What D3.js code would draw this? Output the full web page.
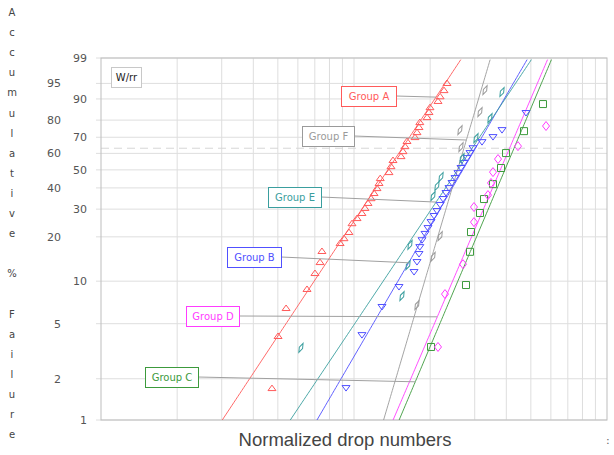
<!DOCTYPE html>
<html>
<head>
<meta charset="utf-8">
<script src="https://cdn.jsdelivr.net/npm/d3@7"></script>
<style>
  body { margin: 0; background: #fff; }
  text { font-family: "DejaVu Sans", Verdana, sans-serif; }
</style>
</head>
<body>
<svg id="chart" width="614" height="455"></svg>
<script>
// ---- Data -------------------------------------------------------------
const groups = ["Group A", "Group B", "Group C", "Group D", "Group E", "Group F"];
const colors = ["#ff5a5a", "#5050ff", "#3c9a3c", "#ff3cff", "#3a9e9e", "#9a9a9a"];

// Weibull fit per group: shape (beta) and scale (eta, normalized drops)
const betaFit = [2.81, 3.19, 4.40, 4.34, 2.78, 6.29];
const etaFit  = [15.5, 30.2, 42.9, 41.2, 29.3, 27.2];

// Observed failures: normalized drop number and cumulative % failure
const dropsA = [4.74, 5.01, 5.39, 6.52, 7.01, 7.34, 7.47, 8.81, 9.13, 9.55, 9.82, 10.28, 10.75, 11.05,
                11.36, 11.68, 12.0, 12.33, 12.56, 12.7, 13.75, 14.0, 14.26, 15.34, 15.62, 15.91, 16.2,
                17.42, 17.74, 18.07, 18.2, 19.44, 19.79, 19.97, 21.48, 21.9, 22.69, 23.3];
const failA  = [1.71, 4.08, 6.47, 8.82, 11.39, 13.55, 16.1, 18.2, 19.6, 21.5, 24.5, 26.4, 28.4, 30.5,
                32.7, 34.9, 37.4, 39.9, 42.6, 45.3, 48.7, 52.2, 55.9, 58.3, 61.4, 64.5, 67.7,
                70.1, 73.1, 76.1, 78.9, 81.6, 84.2, 86.5, 89.2, 91.0, 93.1, 95.1];

const dropsB = [9.30, 10.75, 12.90, 15.06, 17.27, 17.74, 18.07, 18.2, 18.57, 19.08, 19.61, 20.16, 20.72,
                21.28, 21.9, 22.48, 23.1, 23.74, 24.40, 25.07, 25.76, 26.48, 27.21, 27.96, 28.74, 29.53,
                32.06, 35.43, 38.46, 47.85];
const failB  = [1.71, 4.14, 6.58, 9.10, 11.57, 13.55, 15.36, 17.1, 19.0, 20.9, 22.8, 24.9, 27.2,
                29.2, 31.8, 34.5, 37.4, 39.9, 42.6, 45.3, 48.1, 51.1, 54.1, 57.1, 60.2, 63.2,
                67.0, 70.1, 74.3, 83.7];

const dropsC = [20.16, 27.71, 28.74, 29.0, 31.48, 32.65, 35.43, 38.11, 39.89, 46.98, 55.85];
const failC  = [3.40, 9.40, 15.9, 21.5, 28.4, 34.5, 42.0, 51.1, 60.2, 73.7, 87.9];

const dropsD = [21.48, 22.89, 26.97, 29.8, 29.8, 33.85, 34.79, 35.43, 37.09, 44.48, 57.41];
const failD  = [3.40, 8.12, 13.1, 24.9, 30.9, 36.4, 42.6, 48.7, 56.5, 64.5, 76.7];

const dropsE = [6.17, 15.48, 16.35, 16.65, 20.53, 21.28, 22.08, 26.73, 30.35, 34.47, 38.46];
const failE  = [3.35, 7.86, 12.9, 17.7, 35.9, 41.0, 45.9, 57.1, 69.5, 81.1, 92.5];

const dropsF = [17.74, 20.53, 21.9, 26.48, 26.24, 31.48, 32.95];
const failF  = [6.79, 14.7, 20.2, 63.9, 74.3, 84.2, 93.1];

// Probability axis labels, split into two staggered columns
const yTicksOuter = [2, 5, 20, 40, 60, 80, 95];
const yTicksInner = [1, 10, 30, 50, 70, 90, 99];
const yTitle = "Accumulative % Failure";
const xTitle = "Normalized drop numbers";

// ---- Scales -----------------------------------------------------------
const svg = d3.select("#chart");
const plotL = 101, plotR = 607, plotT = 58, plotB = 420;

// Weibull probability transform ln(-ln(1-F))
const wb = p => Math.log(-Math.log(1 - p / 100));

const x = d3.scaleLog().domain([1, 100]).range([plotL, plotR]);
const y = d3.scaleLinear().domain([wb(1), wb(99)]).range([plotB, plotT]);
const yP = p => y(wb(p));

const seriesX = [dropsA, dropsB, dropsC, dropsD, dropsE, dropsF];
const seriesF = [failA, failB, failC, failD, failE, failF];

// ---- Grid -------------------------------------------------------------
const allTicks = yTicksOuter.concat(yTicksInner).sort((a, b) => a - b);
const grid = svg.append("g");
grid.selectAll("line.h").data(allTicks).join("line")
  .attr("x1", plotL - 5).attr("x2", plotR)
  .attr("y1", d => yP(d)).attr("y2", d => yP(d))
  .attr("stroke", "#dedede").attr("stroke-width", 1);

const xGrid = d3.range(2, 10).concat(d3.range(10, 100, 10));
grid.selectAll("line.v").data(xGrid).join("line")
  .attr("x1", d => x(d)).attr("x2", d => x(d))
  .attr("y1", plotT).attr("y2", plotB)
  .attr("stroke", "#dedede").attr("stroke-width", 1);

// characteristic-life reference (63.2 %)
grid.append("line")
  .attr("x1", plotL).attr("x2", plotR)
  .attr("y1", y(0)).attr("y2", y(0))
  .attr("stroke", "#d6d6d6").attr("stroke-dasharray", "8,5");

// frame
svg.append("rect")
  .attr("x", plotL).attr("y", plotT)
  .attr("width", plotR - plotL).attr("height", plotB - plotT)
  .attr("fill", "none").attr("stroke", "#bdbdbd");

// ---- Axes labels -------------------------------------------------------
const axOuter = d3.axisLeft(y).tickValues(yTicksOuter.map(wb))
  .tickFormat((d, i) => yTicksOuter[i]).tickSize(0).tickPadding(0);
const axInner = d3.axisLeft(y).tickValues(yTicksInner.map(wb))
  .tickFormat((d, i) => yTicksInner[i]).tickSize(0).tickPadding(0);

[[axOuter, 61], [axInner, 87]].forEach(([ax, xpos]) => {
  const g = svg.append("g").attr("transform", `translate(${xpos},0)`).call(ax);
  g.select(".domain").remove();
  g.selectAll("text").attr("fill", "#555").style("font-size", "11px")
    .style("font-family", '"DejaVu Sans", Verdana, sans-serif');
});

// stacked vertical title
const chars = yTitle.split("").map(c => c === " " ? "" : c);
svg.append("g").selectAll("text").data(chars).join("text")
  .attr("x", 12).attr("y", (d, i) => 16 + i * 20.1)
  .attr("text-anchor", "middle")
  .attr("fill", "#444").style("font-size", "10px")
  .text(d => d);

svg.append("text")
  .attr("x", (plotL + plotR) / 2 - 9).attr("y", 446)
  .attr("text-anchor", "middle")
  .attr("fill", "#444")
  .style("font-family", '"Liberation Sans", Arial, sans-serif')
  .style("font-size", "18.5px")
  .text(xTitle);

svg.append("text").attr("x", 606).attr("y", 444)
  .attr("fill", "#666").style("font-size", "11px").text(":");

// ---- Fit lines --------------------------------------------------------
svg.append("clipPath").attr("id", "plotClip")
  .append("rect").attr("x", plotL).attr("y", plotT)
  .attr("width", plotR - plotL).attr("height", plotB - plotT);

const lineGen = d3.line().x(d => x(d[0])).y(d => y(d[1]));
const wDomain = y.domain();
const fits = svg.append("g").attr("clip-path", "url(#plotClip)");
groups.forEach((g, i) => {
  const ws = d3.range(wDomain[0], wDomain[1] + 0.01, 0.05);
  const pts = ws.map(w => [etaFit[i] * Math.exp(w / betaFit[i]), w]);
  fits.append("path").datum(pts)
    .attr("d", lineGen)
    .attr("fill", "none")
    .attr("stroke", colors[i])
    .attr("stroke-width", 1)
    .attr("opacity", 0.9);
});

// ---- Markers ----------------------------------------------------------
const markerPath = [
  "M-4,2.5L0,-3L4,2.5Z",                   // up triangle
  "M-4,-2.5L4,-2.5L0,3Z",                  // down triangle
  "M-3.5,-3.5L3.5,-3.5L3.5,3.5L-3.5,3.5Z", // square
  "M0,-4.5L3.5,0L0,4.5L-3.5,0Z",           // diamond
  "M0,-5L1.8,0L0,5L-1.8,0Z",               // thin diamond
  "M0,-5L1.8,0L0,5L-1.8,0Z"                // thin diamond
];
const markerRot = [0, 0, 0, 0, 25, 25];

const marks = svg.append("g");
groups.forEach((g, i) => {
  const data = seriesX[i].map((v, k) => [v, seriesF[i][k]]);
  marks.append("g").selectAll("path").data(data).join("path")
    .attr("d", markerPath[i])
    .attr("transform", d => `translate(${x(d[0])},${yP(d[1])}) rotate(${markerRot[i]})`)
    .attr("fill", "none")
    .attr("stroke", colors[i])
    .attr("stroke-width", 1);
});

// ---- Callouts ---------------------------------------------------------
// box placement (px) and the % failure where each leader meets its fit line
const callouts = [
  { g: 0, bx: 341, by: 86,  w: 55, h: 20, at: 90.7 },
  { g: 5, bx: 302, by: 126, w: 52, h: 20, at: 68.3 },
  { g: 4, bx: 268, by: 187, w: 53, h: 20, at: 33.1 },
  { g: 1, bx: 227, by: 247, w: 54, h: 20, at: 13.4 },
  { g: 3, bx: 186, by: 306, w: 53, h: 20, at: 5.6 },
  { g: 2, bx: 145, by: 367, w: 53, h: 20, at: 1.9 }
];
const fitX = (i, p) => etaFit[i] * Math.exp(wb(p) / betaFit[i]);

const co = svg.append("g");
callouts.forEach(c => {
  co.append("line")
    .attr("x1", c.bx + c.w).attr("y1", c.by + c.h / 2)
    .attr("x2", x(fitX(c.g, c.at))).attr("y2", yP(c.at))
    .attr("stroke", "#a0a0a0").attr("stroke-width", 1);
  co.append("rect")
    .attr("x", c.bx + 0.5).attr("y", c.by + 0.5)
    .attr("width", c.w).attr("height", c.h)
    .attr("fill", "#fff").attr("stroke", colors[c.g]).attr("stroke-width", 1);
  co.append("text")
    .attr("x", c.bx + c.w / 2 + 0.5).attr("y", c.by + c.h / 2 + 4)
    .attr("text-anchor", "middle")
    .attr("fill", colors[c.g]).style("font-size", "10px")
    .text(groups[c.g]);
});

// method tag
svg.append("rect").attr("x", 111.5).attr("y", 67.5).attr("width", 30).attr("height", 20)
  .attr("fill", "#fff").attr("stroke", "#c8c8c8");
svg.append("text").attr("x", 126.5).attr("y", 81).attr("text-anchor", "middle")
  .attr("fill", "#222").style("font-size", "10px").text("W/rr");
</script>
</body>
</html>
